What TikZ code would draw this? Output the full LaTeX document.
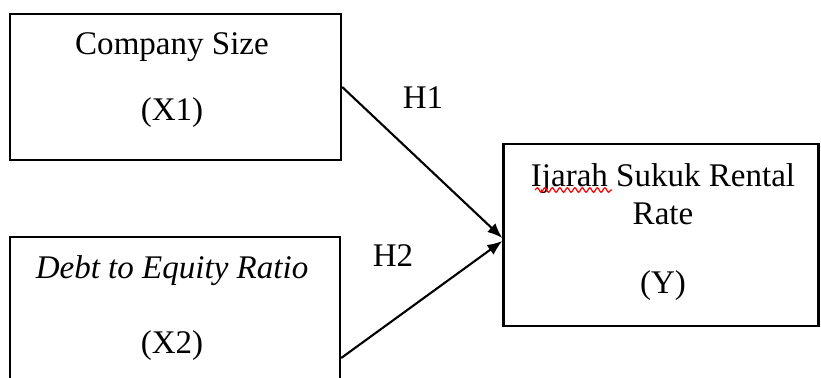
\documentclass[tikz,border=0pt]{standalone}
\usepackage{fontspec}
\setmainfont{Liberation Serif}
\usetikzlibrary{calc,arrows.meta,decorations.pathmorphing}
\tikzset{
	varbox/.style={draw=black, line width=1.4pt, rectangle, inner sep=0pt},
	vartext/.style={font=\fontsize{18.8}{22}\selectfont, inner sep=0pt, anchor=base},
	hypo/.style={-{Latex[length=0.3cm, width=0.24cm]}, line width=1.2pt}
}

\begin{document}
\begin{tikzpicture}[x=0.02cm, y=-0.02cm]
		%%%%% START %%%%%
		\useasboundingbox (0, 0) rectangle (821, 378);
		\clip (0, 0) rectangle (821, 378);
		
		\node[varbox, minimum width=6.62cm, minimum height=2.92cm] (size) at (175.5, 87) {};
		\node[varbox, minimum width=6.6cm, minimum height=4.84cm] (der) at (175, 358) {};
		\node[varbox, minimum width=6.3cm, minimum height=3.64cm] (sewa) at (661, 235) {};
		
		\node[vartext] (sizename) at (172, 55) {Company Size};
		\node[vartext] (sizevar) at (172, 121) {(X1)};
		
		\node[vartext] (dername) at (172, 278) {\itshape Debt to Equity Ratio};
		\node[vartext] (dervar) at (172, 353) {(X2)};
		
		\node[vartext] (sewaname) at (663, 187) {Ijarah Sukuk Rental};
		\node[vartext] (sewarate) at (663, 225) {Rate};
		\node[vartext] (sewavar) at (663, 293) {(Y)};
		
		\draw[red, line width=0.7pt, decorate, decoration={snake, amplitude=0.045cm, segment length=0.15cm}] (535, 190) -- (612, 190);
		
		\node[vartext] (h1) at (423, 109) {H1};
		\node[vartext] (h2) at (393, 266) {H2};
		
		\draw[hypo] (size.east) -- ($(sewa.west)+(0, 3)$);
		\draw[hypo] (der.east) -- ($(sewa.west)+(0, 6)$);
		
		%%%%% END %%%%%
	\end{tikzpicture}
\end{document}
